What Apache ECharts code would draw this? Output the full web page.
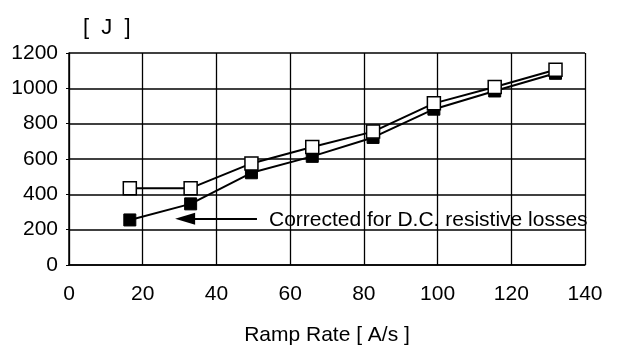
<!DOCTYPE html>
<html>
<head>
<meta charset="utf-8">
<script src="https://cdn.jsdelivr.net/npm/echarts@6/dist/echarts.min.js"></script>
<style>
  html, body { margin: 0; padding: 0; background: #fff; }
  #main { width: 618px; height: 351px; }
</style>
</head>
<body>
<div id="main"></div>
<script>
// ramp rate [A/s]
var rampRate = [16.5, 33, 49.5, 66, 82.5, 99, 115.5, 132];
// measured loss [J]
var measured = [435, 435, 575, 668, 755, 915, 1008, 1105];
// corrected for D.C. resistive losses [J]
var corrected = [255, 346, 522, 615, 722, 882, 985, 1085];
var yTicks = [0, 200, 400, 600, 800, 1000, 1200];
var xTicks = [0, 20, 40, 60, 80, 100, 120, 140];

var arrowFrom = [51, 262];
var arrowTo = [31.5, 262];

function pairs(xs, ys) {
    return xs.map(function (x, i) { return [x, ys[i]]; });
}

var font = '"Liberation Sans", sans-serif';
var myChart = echarts.init(document.getElementById('main'));

var option = {
    animation: false,
    backgroundColor: '#fff',
    grid: { left: 69, right: 33, top: 53, bottom: 83 },
    xAxis: {
        type: 'value',
        min: xTicks[0], max: xTicks[xTicks.length - 1], interval: 20,
        name: 'Ramp Rate [ A/s ]',
        nameLocation: 'middle',
        nameGap: 60,
        nameTextStyle: { color: '#000', fontSize: 21, fontFamily: font },
        axisLine: { lineStyle: { color: '#000', width: 1.5 } },
        axisTick: { show: false },
        axisLabel: { color: '#000', fontSize: 21, fontFamily: font, margin: 19 },
        splitLine: { show: true, lineStyle: { color: '#000', width: 1.3 } }
    },
    yAxis: {
        type: 'value',
        min: yTicks[0], max: yTicks[yTicks.length - 1], interval: 200,
        name: '[  J  ]',
        nameGap: 14,
        nameTextStyle: { color: '#000', fontSize: 22, fontFamily: font, align: 'left', padding: [0, 0, 0, 14] },
        axisLine: { show: true, lineStyle: { color: '#000', width: 1.5 } },
        axisTick: { show: true, length: 3, inside: false, lineStyle: { color: '#000' } },
        axisLabel: {
            color: '#000', fontSize: 21, fontFamily: font, margin: 11,
            formatter: function (v) { return String(v); }
        },
        splitLine: { show: true, lineStyle: { color: '#000', width: 1.6 } }
    },
    series: [
        {
            name: 'corrected',
            type: 'line',
            data: pairs(rampRate, corrected),
            symbol: 'rect',
            symbolSize: 12,
            showAllSymbol: true,
            itemStyle: { color: '#000', borderColor: '#000', borderWidth: 1 },
            lineStyle: { color: '#000', width: 2 },
            markLine: {
                silent: true,
                symbol: ['none', 'triangle'],
                symbolSize: [12, 20],
                label: { show: false },
                lineStyle: { color: '#000', width: 2, type: 'solid' },
                data: [[{ coord: arrowFrom }, { coord: arrowTo }]]
            },
            z: 3
        },
        {
            name: 'measured',
            type: 'line',
            data: pairs(rampRate, measured),
            symbol: 'rect',
            symbolSize: 13,
            showAllSymbol: true,
            itemStyle: { color: '#fff', borderColor: '#000', borderWidth: 1.5 },
            lineStyle: { color: '#000', width: 2 },
            z: 4
        }
    ],
    graphic: [
        {
            type: 'text',
            left: 269, top: 210,
            style: {
                text: 'Corrected for D.C. resistive losses',
                fill: '#000',
                font: '21px ' + font
            },
            z: 10
        }
    ]
};
myChart.setOption(option);
</script>
</body>
</html>
